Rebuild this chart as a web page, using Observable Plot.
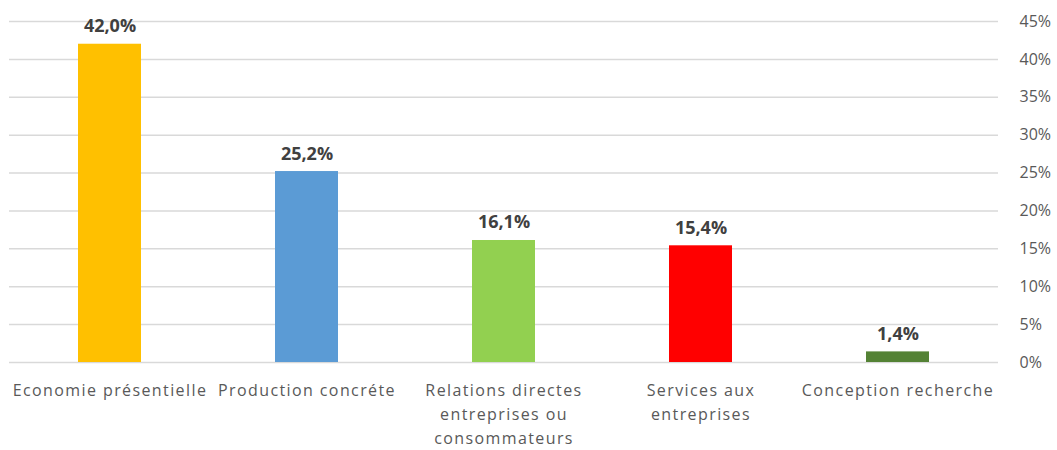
<!DOCTYPE html>
<html>
<head>
<meta charset="utf-8">
<script src="https://cdn.jsdelivr.net/npm/d3@7"></script>
<script src="https://cdn.jsdelivr.net/npm/@observablehq/plot@0.6"></script>
<style>
  html, body { margin: 0; padding: 0; background: #fff; }
  #chart { width: 1057px; height: 450px; }
  #chart g[aria-label="x-axis tick label"] text { letter-spacing: 1.4px; }
</style>
</head>
<body>
<div id="chart"></div>
<script>
const categories = [
  "Economie présentielle",
  "Production concréte",
  "Relations directes\nentreprises ou\nconsommateurs",
  "Services aux\nentreprises",
  "Conception recherche"
];
const values = [42.0, 25.2, 16.1, 15.4, 1.4];
const colors = ["#FFC000", "#5B9BD5", "#92D050", "#FF0000", "#548235"];
const yTicks = [0, 5, 10, 15, 20, 25, 30, 35, 40, 45];

const data = categories.map((c, i) => ({category: c, value: values[i], color: colors[i]}));

const chart = Plot.plot({
  width: 1057,
  height: 450,
  marginTop: 21,
  marginBottom: 88,
  marginLeft: 9,
  marginRight: 59,
  style: {fontFamily: "'Open Sans', sans-serif", background: "#fff"},
  x: {domain: categories, paddingInner: 0.68, paddingOuter: 0.34, label: null},
  y: {domain: [0, 45], label: null},
  marks: [
    Plot.gridY(yTicks, {stroke: "#d9d9d9", strokeOpacity: 1, strokeWidth: 1.5}),
    Plot.barY(data, {x: "category", y: "value", fill: "color"}),
    Plot.text(data, {
      x: "category", y: "value",
      text: d => d.value.toFixed(1).replace(".", ",") + "%",
      dy: -12, lineAnchor: "bottom",
      fontSize: 18, fontWeight: "bold", fill: "#404040"
    }),
    Plot.axisY(yTicks, {
      anchor: "right", tickSize: 0, tickPadding: 21, textAnchor: "start",
      tickFormat: d => d + "%", fontSize: 16, fill: "#595959", label: null
    }),
    Plot.axisX({
      tickSize: 0, tickPadding: 16, fontSize: 16, fill: "#595959",
      lineHeight: 1.5, label: null
    })
  ]
});
document.getElementById("chart").appendChild(chart);
</script>
</body>
</html>
